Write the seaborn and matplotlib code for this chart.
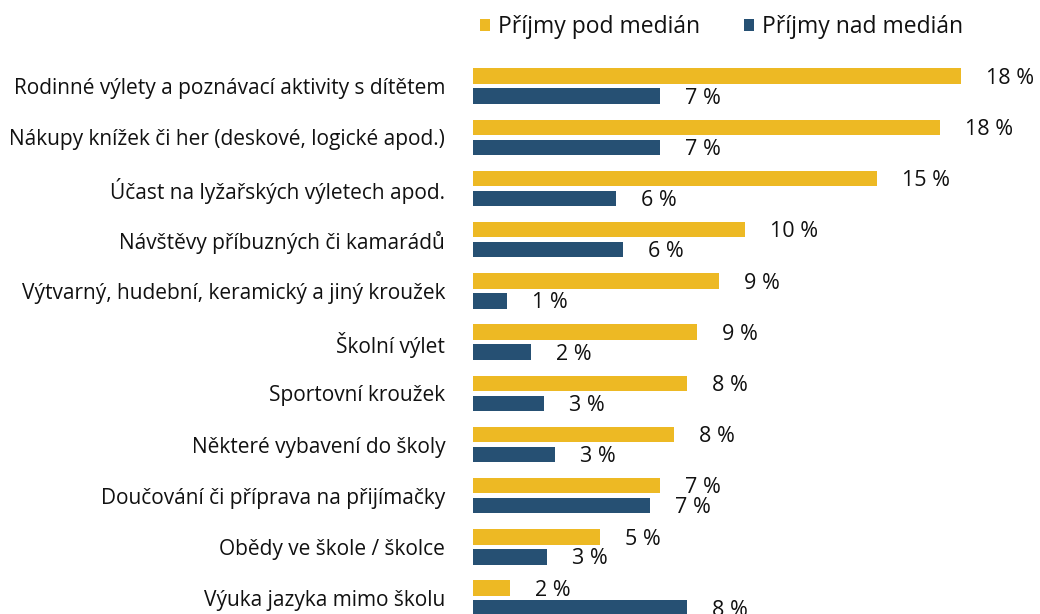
import matplotlib
matplotlib.use("Agg")
import matplotlib.pyplot as plt
import seaborn as sns
import pandas as pd

categories = [
    "Rodinné výlety a poznávací aktivity s dítětem",
    "Nákupy knížek či her (deskové, logické apod.)",
    "Účast na lyžařských výletech apod.",
    "Návštěvy příbuzných či kamarádů",
    "Výtvarný, hudební, keramický a jiný kroužek",
    "Školní výlet",
    "Sportovní kroužek",
    "Některé vybavení do školy",
    "Doučování či příprava na přijímačky",
    "Obědy ve škole / školce",
    "Výuka jazyka mimo školu",
]
series_names = ["Příjmy pod medián", "Příjmy nad medián"]
below_values = [18.5, 17.7, 15.3, 10.3, 9.3, 8.5, 8.1, 7.6, 7.1, 4.8, 1.4]
above_values = [7.1, 7.1, 5.4, 5.7, 1.3, 2.2, 2.7, 3.1, 6.7, 2.8, 8.1]
below_labels = [18, 18, 15, 10, 9, 9, 8, 8, 7, 5, 2]
above_labels = [7, 7, 6, 6, 1, 2, 3, 3, 7, 3, 8]
colors = ["#EDB924", "#265073"]

df = pd.DataFrame({
    "category": categories * 2,
    "series": [series_names[0]] * len(categories) + [series_names[1]] * len(categories),
    "value": below_values + above_values,
})

sns.set_style("white")
plt.rcParams["font.family"] = ["Open Sans", "DejaVu Sans"]

fig = plt.figure(figsize=(10.4, 6.14), dpi=100)
ax = fig.add_axes([473 / 1040, 0, 567 / 1040, 1])

sns.barplot(data=df, y="category", x="value", hue="series", orient="h",
            palette=colors, saturation=1, width=0.78, gap=0.23, linewidth=0, ax=ax,
            order=categories, hue_order=series_names)

for cont, labs in zip(ax.containers, [below_labels, above_labels]):
    texts = ax.bar_label(cont, labels=[f"{v} %" for v in labs], padding=18,
                         fontsize=15.5, color="#111111")
    for t in texts:
        t.xyann = (18, -1.5)

ax.set_xlim(0, 567 / 26.4)
ax.set_ylim(10.31, -1.682)
ax.set_xlabel("")
ax.set_ylabel("")
ax.set_xticks([])
for s in ax.spines.values():
    s.set_visible(False)
ax.tick_params(axis="y", length=0, pad=20, labelsize=15, labelcolor="#111111")

handles, labels = ax.get_legend_handles_labels()
ax.get_legend().remove()
fig.legend(handles, labels, loc="center left", bbox_to_anchor=(480 / 1040, 1 - 27 / 614),
           ncol=2, frameon=False, fontsize=16.5, handlelength=0.45, handleheight=0.45,
           handletextpad=0.35, columnspacing=1.9, borderpad=0, borderaxespad=0,
           labelcolor="#111111")

fig.savefig("out.png", dpi=100)
